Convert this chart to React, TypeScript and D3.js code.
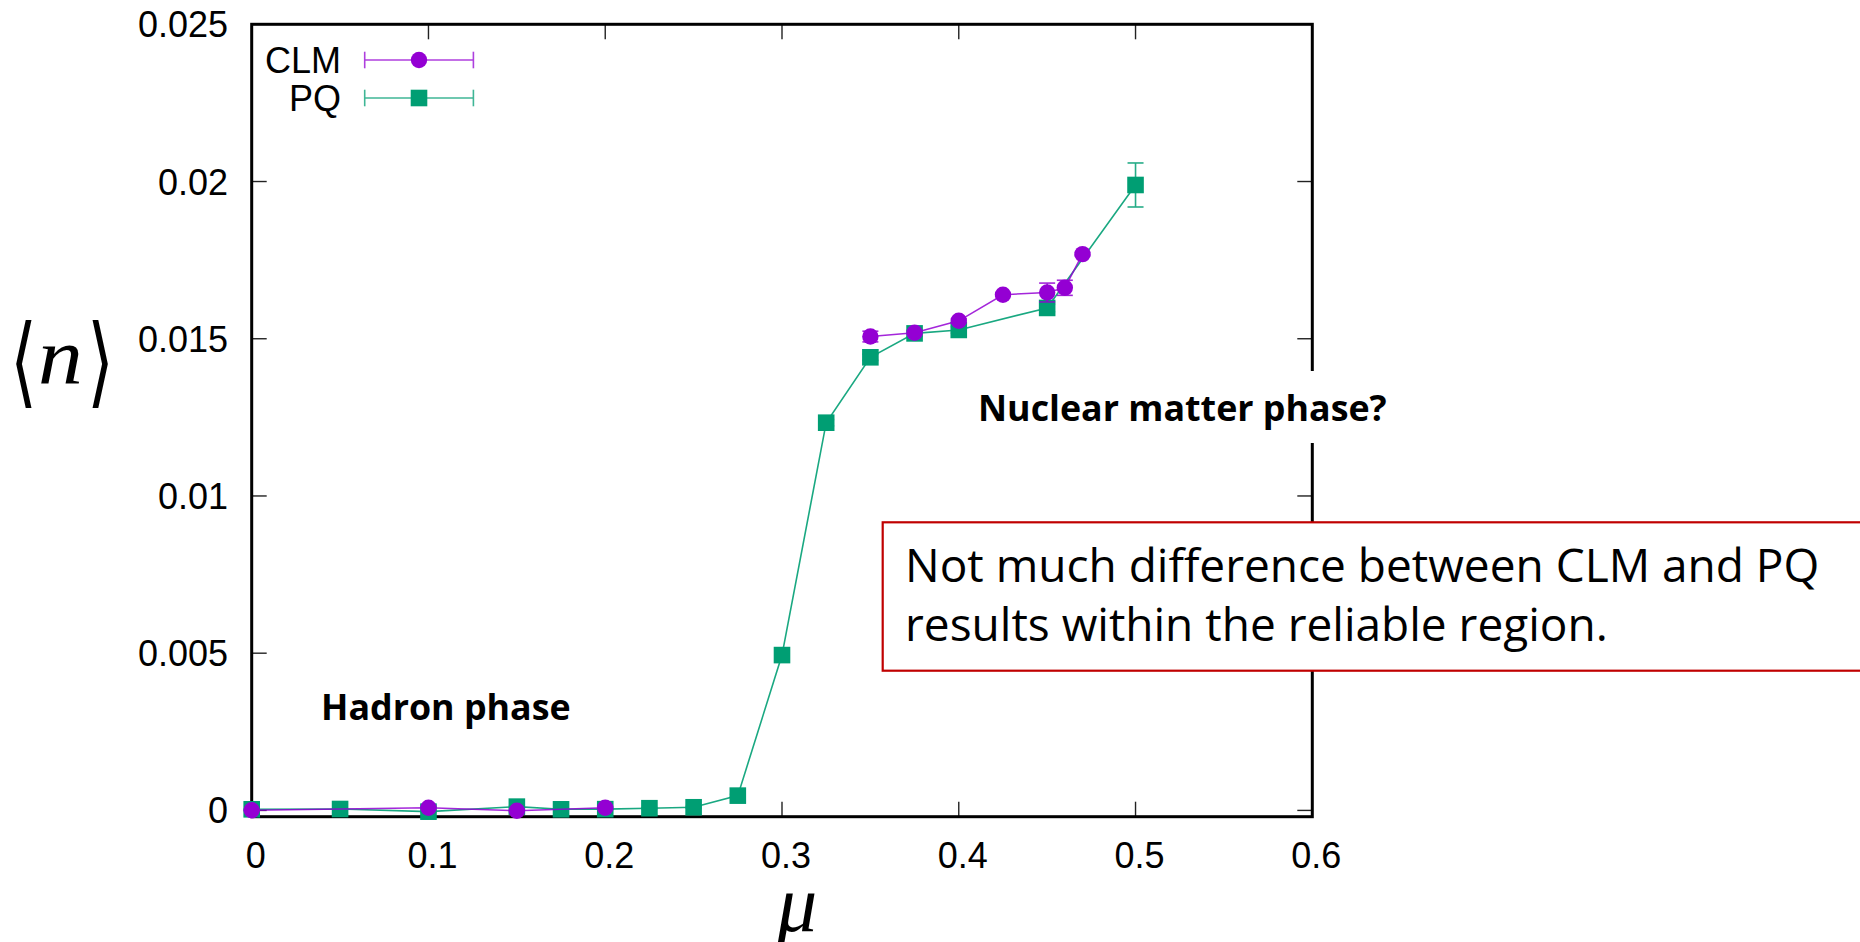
import React from "react";
import * as d3 from "d3";

// ---- data ----
const MU_PQ = [0, 0.05, 0.1, 0.15, 0.175, 0.2, 0.225, 0.25, 0.275, 0.3, 0.325, 0.35, 0.375, 0.4, 0.45, 0.5];
const N_PQ = [0.000035, 0.000045, -0.00004, 0.00012, 0.000035, 0.00004, 0.00007, 0.0001, 0.00047, 0.00494, 0.01233, 0.01441, 0.01517, 0.01528, 0.01598, 0.01989];
const ERR_PQ = [0.00002, 0.00002, 0.00002, 0.00003, 0.00002, 0.00002, 0.00002, 0.00003, 0.00004, 0.00008, 0.0001, 0.0001, 0.0001, 0.0001, 0.00012, 0.0007];

const MU_CLM = [0, 0.1, 0.15, 0.2, 0.35, 0.375, 0.4, 0.425, 0.45, 0.46, 0.47];
const N_CLM = [0.000003, 0.000086, -0.00001, 0.000086, 0.01507, 0.01519, 0.01557, 0.0164, 0.01647, 0.01662, 0.01769];
const ERR_CLM = [0.00002, 0.00003, 0.00003, 0.00003, 0.00017, 0.00005, 0.00006, 0.00005, 0.0003, 0.00024, 0.00005];
// data blocks (gnuplot-style blank-line breaks): the CLM line is not joined between blocks
const BLOCK_CLM = [0, 0, 0, 0, 1, 1, 1, 1, 1, 1, 1];

const X_TICKS = [0, 0.1, 0.2, 0.3, 0.4, 0.5, 0.6];
const X_TICK_LABELS = ["0", "0.1", "0.2", "0.3", "0.4", "0.5", "0.6"];
const Y_TICKS = [0, 0.005, 0.01, 0.015, 0.02, 0.025];
const Y_TICK_LABELS = ["0", "0.005", "0.01", "0.015", "0.02", "0.025"];

const SERIES_NAMES = ["CLM", "PQ"];
const COLOR_CLM = "#9400d3";
const COLOR_PQ = "#009e73";

const W = 1860;
const H = 942;

type Pt = { m: number; n: number; e: number };

export default function App() {
  const left = 251.7, right = 1312.3, top = 24.3, bottom = 816.7;
  const x = d3.scaleLinear().domain([0, 0.6]).range([left, right]);
  const y = d3.scaleLinear().domain([-0.0002, 0.025]).range([bottom, top]);
  const tickLen = 15;
  const axisFont = "'Liberation Sans', Arial, sans-serif";

  const pq: Pt[] = MU_PQ.map((m, i) => ({ m, n: N_PQ[i], e: ERR_PQ[i] }));
  const clm: Pt[] = MU_CLM.map((m, i) => ({ m, n: N_CLM[i], e: ERR_CLM[i] }));
  const clmBlocks = Array.from(d3.group(clm.map((d, i) => ({ ...d, b: BLOCK_CLM[i] })), (d) => d.b).values());
  const line = d3.line<Pt>().x((d) => x(d.m)).y((d) => y(d.n));

  const sq = 16.6;
  const rad = 8.2;
  const capW = 8;

  const errBars = (data: Pt[], color: string) =>
    data.map((d, i) => {
      const cx = x(d.m);
      const y1 = y(d.n - d.e);
      const y2 = y(d.n + d.e);
      return (
        <g key={i} stroke={color} strokeWidth={1.6} opacity={0.85}>
          <line x1={cx} x2={cx} y1={y1} y2={y2} />
          <line x1={cx - capW} x2={cx + capW} y1={y1} y2={y1} />
          <line x1={cx - capW} x2={cx + capW} y1={y2} y2={y2} />
        </g>
      );
    });

  const legendRows = [
    { name: SERIES_NAMES[0], color: COLOR_CLM, y: 60, shape: "circle" },
    { name: SERIES_NAMES[1], color: COLOR_PQ, y: 98, shape: "square" },
  ];

  return (
    <svg width={W} height={H} style={{ position: "absolute", left: 0, top: 0, background: "#fff" }}>
      <rect x={0} y={0} width={W} height={H} fill="#fff" />

      {/* ticks */}
      <g stroke="#222" strokeWidth={1.4}>
        {X_TICKS.filter((t) => t > 0 && t < 0.6).map((t, i) => (
          <g key={"xt" + i}>
            <line x1={x(t)} x2={x(t)} y1={bottom} y2={bottom - tickLen} />
            <line x1={x(t)} x2={x(t)} y1={top} y2={top + tickLen} />
          </g>
        ))}
        {Y_TICKS.filter((t) => t < 0.025).map((t, i) => (
          <g key={"yt" + i}>
            <line x1={left} x2={left + tickLen} y1={y(t)} y2={y(t)} />
            <line x1={right} x2={right - tickLen} y1={y(t)} y2={y(t)} />
          </g>
        ))}
      </g>

      {/* border */}
      <rect x={left} y={top} width={right - left} height={bottom - top} fill="none" stroke="#000" strokeWidth={3} />

      {/* tick labels */}
      <g fontFamily={axisFont} fontSize={36} fill="#000">
        {X_TICKS.map((t, i) => (
          <text key={"xl" + i} x={x(t) + 4} y={868} textAnchor="middle">
            {X_TICK_LABELS[i]}
          </text>
        ))}
        {Y_TICKS.map((t, i) => (
          <text key={"yl" + i} x={228} y={y(t) + 13} textAnchor="end">
            {Y_TICK_LABELS[i]}
          </text>
        ))}
      </g>

      {/* axis labels */}
      <g fill="#000">
        <text transform="translate(10,395) scale(1.05,1.5)" fontFamily="'DejaVu Serif', serif" fontSize={66}>⟨</text>
        <text transform="translate(38,383) scale(1.12,1)" fontFamily="'Liberation Serif', serif" fontStyle="italic" fontSize={80}>n</text>
        <text transform="translate(87,395) scale(1.05,1.5)" fontFamily="'DejaVu Serif', serif" fontSize={66}>⟩</text>
      </g>
      <text x={797} y={931} textAnchor="middle" fontFamily="'Liberation Serif', serif" fontStyle="italic" fontSize={80} fill="#000">
        μ
      </text>

      {/* series: PQ first, CLM on top */}
      <path d={line(pq) || ""} fill="none" stroke={COLOR_PQ} strokeWidth={1.6} opacity={0.9} />
      {errBars(pq, COLOR_PQ)}
      {pq.map((d, i) => (
        <rect key={"pq" + i} x={x(d.m) - sq / 2} y={y(d.n) - sq / 2} width={sq} height={sq} fill={COLOR_PQ} />
      ))}

      {clmBlocks.map((blk, i) => (
        <path key={"cb" + i} d={line(blk) || ""} fill="none" stroke={COLOR_CLM} strokeWidth={1.6} opacity={0.85} />
      ))}
      {errBars(clm, COLOR_CLM)}
      {clm.map((d, i) => (
        <circle key={"clm" + i} cx={x(d.m)} cy={y(d.n)} r={rad} fill={COLOR_CLM} />
      ))}

      {/* legend */}
      {legendRows.map((r, i) => (
        <g key={"lg" + i}>
          <text x={341} y={r.y + 13} textAnchor="end" fontFamily={axisFont} fontSize={36} fill="#000">
            {r.name}
          </text>
          <g stroke={r.color} strokeWidth={1.6} opacity={0.75}>
            <line x1={364.7} x2={473.4} y1={r.y} y2={r.y} />
            <line x1={364.7} x2={364.7} y1={r.y - 8.3} y2={r.y + 8.3} />
            <line x1={473.4} x2={473.4} y1={r.y - 8.3} y2={r.y + 8.3} />
          </g>
          {r.shape === "circle" ? (
            <circle cx={419} cy={r.y} r={rad} fill={r.color} />
          ) : (
            <rect x={419 - sq / 2} y={r.y - sq / 2} width={sq} height={sq} fill={r.color} />
          )}
        </g>
      ))}

      {/* annotations */}
      <text x={321} y={720} fontFamily="'Open Sans', sans-serif" fontWeight={700} fontSize={35.8} fill="#000">
        Hadron phase
      </text>
      <rect x={960} y={371} width={450} height={72} fill="#fff" />
      <text x={978} y={421} fontFamily="'Open Sans', sans-serif" fontWeight={700} fontSize={35.8} fill="#000">
        Nuclear matter phase?
      </text>

      <rect x={882.7} y={522.3} width={1000} height={148.4} fill="#fff" stroke="#c00000" strokeWidth={2.2} />
      <text fontFamily="'Open Sans', sans-serif" fontSize={46} fill="#000">
        <tspan x={905} y={582}>Not much difference between CLM and PQ</tspan>
        <tspan x={905} y={641}>results within the reliable region.</tspan>
      </text>
    </svg>
  );
}
